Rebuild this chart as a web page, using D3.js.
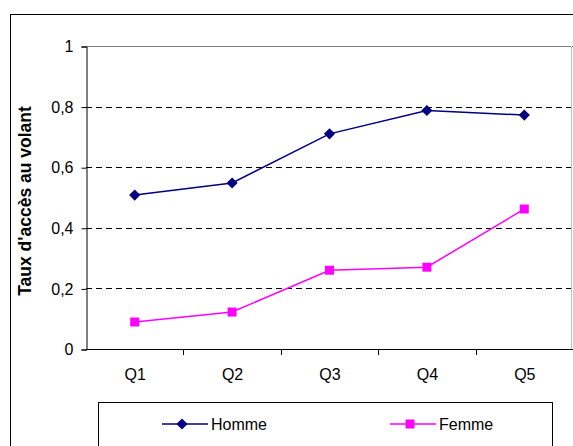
<!DOCTYPE html>
<html>
<head>
<meta charset="utf-8">
<script src="https://cdn.jsdelivr.net/npm/d3@7"></script>
<style>
  body { margin: 0; background: #fff; }
  svg { display: block; font-family: "Liberation Sans", Arial, sans-serif; }
</style>
</head>
<body>
<svg width="573" height="446"></svg>
<script>
const categories = ["Q1", "Q2", "Q3", "Q4", "Q5"];
const homme = [0.508, 0.548, 0.71, 0.787, 0.772];
const femme = [0.089, 0.122, 0.26, 0.27, 0.462];
const yTicks = [0, 0.2, 0.4, 0.6, 0.8, 1];

const svg = d3.select("svg");
const plotLeft = 86, plotRight = 573, plotTop = 46, plotBottom = 349;
const font = "Liberation Sans, Arial, sans-serif";

// outer frame
svg.append("rect")
  .attr("x", 10.5).attr("y", 14.5)
  .attr("width", 600).attr("height", 500)
  .attr("fill", "none").attr("stroke", "#000");

const x = d3.scaleBand().domain(categories).range([plotLeft, plotRight]);
const y = d3.scaleLinear().domain([0, 1]).range([plotBottom, plotTop]);
const fmt = (d) => (d === 0 || d === 1 ? String(d) : d3.format(".1f")(d).replace(".", ","));

// gridlines
svg.append("g")
  .selectAll("line")
  .data(yTicks.filter((d) => d > 0 && d < 1))
  .join("line")
  .attr("x1", plotLeft).attr("x2", plotRight)
  .attr("y1", (d) => Math.round(y(d)) + 0.5)
  .attr("y2", (d) => Math.round(y(d)) + 0.5)
  .attr("stroke", "#000")
  .attr("stroke-dasharray", "6,4");

// top and right edge of plot area
svg.append("line")
  .attr("x1", plotLeft).attr("x2", plotRight)
  .attr("y1", Math.round(y(1)) + 0.5).attr("y2", Math.round(y(1)) + 0.5)
  .attr("stroke", "#808080");
svg.append("line")
  .attr("x1", plotRight - 1.5).attr("x2", plotRight - 1.5)
  .attr("y1", y(1)).attr("y2", y(0))
  .attr("stroke", "#c0c0c0");

// y axis
const yAxis = svg.append("g")
  .attr("transform", `translate(${plotLeft + 0.5},0.5)`)
  .call(d3.axisLeft(y).tickValues(yTicks).tickFormat(fmt).tickSize(5).tickPadding(8));
yAxis.select(".domain").attr("stroke", "#000");
yAxis.selectAll("text").attr("font-size", 16).attr("fill", "#000").attr("font-family", font);

// x axis
const xAxis = svg.append("g")
  .attr("transform", `translate(0.5,${plotBottom + 0.5})`)
  .call(d3.axisBottom(x).tickSize(0).tickPadding(19));
xAxis.select(".domain").attr("stroke", "#000").attr("d", `M${plotLeft},0H${plotRight}`);
xAxis.selectAll("text").attr("font-size", 16).attr("fill", "#000").attr("font-family", font);
svg.append("g")
  .selectAll("line")
  .data(categories.slice(1))
  .join("line")
  .attr("x1", (d) => Math.round(x(d)) + 0.5)
  .attr("x2", (d) => Math.round(x(d)) + 0.5)
  .attr("y1", plotBottom).attr("y2", plotBottom + 6)
  .attr("stroke", "#000");

// y title
svg.append("text")
  .attr("transform", `translate(31,201) rotate(-90)`)
  .attr("text-anchor", "middle")
  .attr("font-size", 17.5).attr("font-weight", "bold")
  .text("Taux d'accès au volant");

const cx = (i) => x(categories[i]) + x.bandwidth() / 2;
const line = d3.line().x((d, i) => cx(i)).y((d) => y(d));

const series = [
  { name: "Homme", values: homme, color: "#000080", rot: 45, size: 62 },
  { name: "Femme", values: femme, color: "#FF00FF", rot: 0, size: 81 }
];

series.forEach((s) => {
  svg.append("path")
    .attr("d", line(s.values))
    .attr("fill", "none").attr("stroke", s.color).attr("stroke-width", 1.5);
  svg.append("g")
    .selectAll("path")
    .data(s.values)
    .join("path")
    .attr("transform", (d, i) => `translate(${cx(i)},${y(d)}) rotate(${s.rot})`)
    .attr("d", d3.symbol().type(d3.symbolSquare).size(s.size))
    .attr("fill", s.color);
});

// legend
svg.append("rect")
  .attr("x", 98.5).attr("y", 402.5)
  .attr("width", 454).attr("height", 80)
  .attr("fill", "#fff").attr("stroke", "#000");

const legendX = [162, 390];
series.forEach((s, i) => {
  const g = svg.append("g").attr("transform", `translate(${legendX[i]},424)`);
  g.append("line").attr("x1", 0).attr("x2", 46).attr("stroke", s.color).attr("stroke-width", 1.5);
  g.append("path").attr("transform", `translate(20,0) rotate(${s.rot})`)
    .attr("d", d3.symbol().type(d3.symbolSquare).size(s.size)).attr("fill", s.color);
  g.append("text").attr("x", 49).attr("y", 6).attr("font-size", 16).attr("font-family", font).text(s.name);
});
</script>
</body>
</html>
